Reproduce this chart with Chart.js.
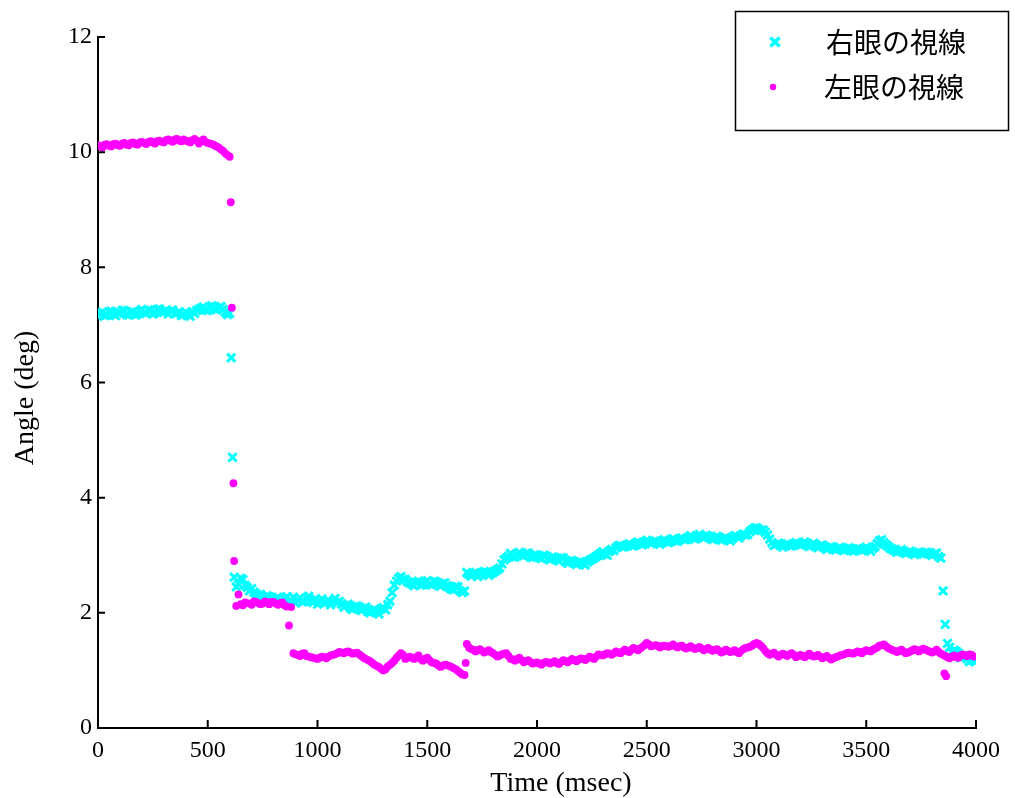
<!DOCTYPE html>
<html>
<head>
<meta charset="utf-8">
<script src="https://cdn.jsdelivr.net/npm/chart.js@4"></script>
<style>
  html, body { margin: 0; padding: 0; background: #ffffff; }
  #wrap { width: 1015px; height: 798px; }
</style>
</head>
<body>
<div id="wrap"><canvas id="gazeChart" width="1015" height="798"></canvas></div>
<script>
// Gaze angle samples. The main arrays hold readings at 0, 20, 40 ... ms,
// the "Odd" arrays the readings taken halfway in between (10, 30, 50 ... ms).
const SAMPLE_MS = 20;

const rightEyeAngle = [
    7.15, 7.22, 7.17, 7.24, 7.16, 7.21, 7.25, 7.17, 7.23, 7.19,
    7.27, 7.2, 7.25, 7.21, 7.28, 7.22, 7.19, 7.26, 7.2, 7.16,
    7.22, 7.15, 7.2, 7.27, 7.31, 7.25, 7.33, 7.26, 7.32, 7.22,
    7.2, 2.62, 2.5, 2.58, 2.44, 2.42, 2.33, 2.32, 2.24, 2.28,
    2.2, 2.27, 2.18, 2.28, 2.21, 2.17, 2.26, 2.2, 2.29, 2.18,
    2.15, 2.24, 2.18, 2.14, 2.25, 2.2, 2.1, 2.15, 2.06, 2.12,
    2.04, 2.1, 2.0, 2.06, 1.98, 2.09, 2.14, 2.35, 2.55, 2.63,
    2.58, 2.52, 2.47, 2.55, 2.49, 2.56, 2.48, 2.54, 2.46, 2.52,
    2.44, 2.4, 2.45, 2.35, 2.7, 2.64, 2.7, 2.66, 2.72, 2.65,
    2.7, 2.75, 2.85, 2.95, 3.03, 2.97, 3.05, 2.99, 3.04, 2.96,
    3.0, 2.94, 2.99, 2.92, 2.96, 2.9, 2.95, 2.86, 2.91, 2.84,
    2.89, 2.83, 2.91, 2.95, 3.0, 3.06, 3.0, 3.1, 3.13, 3.17,
    3.15, 3.2, 3.16, 3.23, 3.18, 3.26, 3.2, 3.25, 3.19, 3.27,
    3.22, 3.29, 3.24, 3.3, 3.27, 3.34, 3.28, 3.36, 3.3, 3.33,
    3.27, 3.33, 3.26, 3.31, 3.25, 3.34, 3.3, 3.37, 3.36, 3.44,
    3.48, 3.43, 3.4, 3.28, 3.17, 3.21, 3.14, 3.2, 3.16, 3.22,
    3.17, 3.23, 3.15, 3.21, 3.13, 3.18, 3.1, 3.15, 3.09, 3.14,
    3.08, 3.13, 3.07, 3.12, 3.08, 3.14, 3.07, 3.15, 3.25, 3.22,
    3.15, 3.1, 3.05, 3.1, 3.03, 3.07, 3.01, 3.06, 3.02, 3.05,
    3.0, 3.04, 2.95, 1.8, 1.4, 1.35, 1.3, 1.25, 1.2, 1.18
];

const rightEyeAngleOdd = [
    7.2, 7.16, 7.23, 7.19, 7.21, 7.25, 7.18, 7.22, 7.17, 7.24,
    7.21, 7.26, 7.19, 7.27, 7.23, 7.25, 7.24, 7.2, 7.23, 7.18,
    7.19, 7.23, 7.25, 7.29, 7.26, 7.32, 7.28, 7.3, 7.27, 7.18,
    null, 2.45, 2.6, 2.48, 2.38, 2.36, 2.3, 2.27, 2.3, 2.23,
    2.25, 2.19, 2.24, 2.2, 2.27, 2.22, 2.19, 2.25, 2.22, 2.24,
    2.2, 2.17, 2.22, 2.2, 2.18, 2.15, 2.13, 2.08, 2.11, 2.07,
    2.08, 2.02, 2.04, 2.03, 2.07, 2.05, 2.2, 2.48, 2.6, 2.58,
    2.54, 2.5, 2.53, 2.48, 2.53, 2.5, 2.55, 2.5, 2.51, 2.47,
    2.41, 2.46, 2.38, 2.38, 2.67, 2.68, 2.63, 2.69, 2.7, 2.68,
    2.73, 2.78, 2.92, 2.98, 2.97, 3.02, 3.0, 3.03, 2.97, 3.01,
    2.96, 3.0, 2.94, 2.97, 2.93, 2.96, 2.89, 2.9, 2.87, 2.88,
    2.86, 2.88, 2.93, 2.98, 3.03, 3.02, 3.07, 3.08, 3.16, 3.14,
    3.18, 3.17, 3.21, 3.2, 3.22, 3.23, 3.24, 3.21, 3.24, 3.23,
    3.26, 3.25, 3.28, 3.27, 3.31, 3.3, 3.33, 3.32, 3.35, 3.3,
    3.3, 3.29, 3.29, 3.28, 3.29, 3.33, 3.34, 3.35, 3.41, 3.47,
    3.45, 3.44, 3.35, 3.22, 3.19, 3.17, 3.18, 3.17, 3.19, 3.2,
    3.2, 3.19, 3.17, 3.18, 3.16, 3.14, 3.13, 3.12, 3.11, 3.1,
    3.11, 3.1, 3.09, 3.11, 3.1, 3.11, 3.12, 3.2, 3.27, 3.18,
    3.12, 3.08, 3.07, 3.06, 3.05, 3.04, 3.04, 3.03, 3.05, 3.03,
    3.02, 2.98, 2.38, 1.47, 1.32, 1.33, 1.22, 1.24, 1.15, 1.17
];

const leftEyeAngle = [
    10.12, 10.08, 10.14, 10.1, 10.15, 10.11, 10.16, 10.12, 10.17, 10.13,
    10.18, 10.14, 10.19, 10.15, 10.2, 10.17, 10.22, 10.18, 10.23, 10.19,
    10.2, 10.17, 10.23, 10.15, 10.22, 10.16, 10.14, 10.1, 10.05, 9.98,
    9.92, 2.9, 2.32, 2.13, 2.17, 2.14, 2.19, 2.15, 2.2, 2.15,
    2.19, 2.14, 2.18, 2.11, 2.1, 1.28, 1.25, 1.3, 1.24, 1.22,
    1.2, 1.24, 1.21, 1.26, 1.28, 1.32, 1.3, 1.33, 1.29, 1.31,
    1.25, 1.2, 1.16, 1.1, 1.06, 1.0, 1.07, 1.13, 1.22, 1.3,
    1.2, 1.24, 1.2, 1.26, 1.17, 1.22, 1.14, 1.12, 1.06, 1.1,
    1.08, 1.04, 0.99, 0.93, 1.46, 1.37, 1.33, 1.37, 1.31, 1.35,
    1.3, 1.24, 1.28, 1.3, 1.2, 1.17, 1.22, 1.14, 1.18, 1.12,
    1.14, 1.1, 1.15, 1.12, 1.16, 1.11, 1.18, 1.14, 1.2, 1.16,
    1.21, 1.18, 1.24, 1.2, 1.28, 1.26, 1.3, 1.27, 1.33, 1.3,
    1.36, 1.32, 1.39, 1.35, 1.41, 1.48, 1.42, 1.44, 1.4, 1.43,
    1.41, 1.45, 1.4, 1.43, 1.38, 1.42, 1.37, 1.41, 1.35, 1.39,
    1.34, 1.37, 1.31, 1.36, 1.32, 1.35, 1.3, 1.37, 1.4, 1.43,
    1.48, 1.43, 1.34, 1.27, 1.31, 1.24, 1.29, 1.25, 1.3, 1.23,
    1.27, 1.23, 1.29, 1.24, 1.27, 1.21, 1.25, 1.19, 1.23, 1.26,
    1.28, 1.31, 1.29, 1.33, 1.3, 1.35, 1.33, 1.38, 1.43, 1.45,
    1.39, 1.35, 1.32, 1.36, 1.3, 1.33, 1.37, 1.33, 1.38, 1.34,
    1.31, 1.36, 1.29, 1.25, 1.21, 1.26, 1.22, 1.28, 1.25, 1.27
];

const leftEyeAngleOdd = [
    10.1, 10.13, 10.11, 10.14, 10.12, 10.15, 10.13, 10.16, 10.14, 10.17,
    10.16, 10.18, 10.17, 10.19, 10.18, 10.21, 10.2, 10.22, 10.2, 10.22,
    10.19, 10.21, 10.2, 10.19, 10.18, 10.15, 10.12, 10.08, 10.02, 9.95,
    7.3, 2.12, 2.15, 2.18, 2.16, 2.2, 2.17, 2.16, 2.18, 2.19,
    2.16, 2.17, 2.13, 1.78, 1.3, 1.27, 1.29, 1.25, 1.23, 1.21,
    1.22, 1.23, 1.24, 1.27, 1.3, 1.31, 1.32, 1.31, 1.3, 1.28,
    1.22, 1.18, 1.13, 1.08, 1.03, 1.02, 1.1, 1.17, 1.26, 1.27,
    1.22, 1.22, 1.23, 1.2, 1.2, 1.18, 1.13, 1.09, 1.08, 1.09,
    1.06, 1.02, 0.96, 0.92, 1.4, 1.36, 1.35, 1.34, 1.33, 1.32,
    1.27, 1.26, 1.29, 1.25, 1.19, 1.2, 1.18, 1.16, 1.15, 1.13,
    1.12, 1.13, 1.14, 1.14, 1.13, 1.15, 1.16, 1.17, 1.18, 1.19,
    1.2, 1.21, 1.22, 1.24, 1.27, 1.28, 1.29, 1.3, 1.31, 1.33,
    1.34, 1.36, 1.37, 1.38, 1.44, 1.45, 1.43, 1.43, 1.42, 1.42,
    1.43, 1.42, 1.42, 1.4, 1.4, 1.39, 1.39, 1.38, 1.37, 1.36,
    1.36, 1.34, 1.33, 1.34, 1.33, 1.32, 1.34, 1.39, 1.41, 1.46,
    1.46, 1.39, 1.3, 1.29, 1.27, 1.27, 1.27, 1.28, 1.27, 1.25,
    1.25, 1.26, 1.26, 1.25, 1.24, 1.23, 1.22, 1.21, 1.24, 1.27,
    1.3, 1.3, 1.31, 1.32, 1.33, 1.34, 1.36, 1.4, 1.44, 1.42,
    1.37, 1.34, 1.34, 1.33, 1.31, 1.35, 1.35, 1.36, 1.36, 1.33,
    1.33, 1.32, 1.27, 1.23, 1.24, 1.23, 1.26, 1.26, 1.28, 1.24
];

// samples caught off the 10 ms grid during the fast jumps (saccades)
const rightJumpTime = [607, 613];
const rightJumpAngle = [6.43, 4.7];
const leftJumpTime = [605, 617, 1675, 3856, 3864];
const leftJumpAngle = [9.13, 4.25, 1.13, 0.95, 0.9];

const xTicks = [0, 500, 1000, 1500, 2000, 2500, 3000, 3500, 4000];
const yTicks = [0, 2, 4, 6, 8, 10, 12];

const seriesNames = ['右眼の視線', '左眼の視線'];
const RIGHT_COLOR = '#00ffff';
const LEFT_COLOR = '#ff00ff';

function toPoints(values, oddValues, extraT, extraV) {
    const pts = values.map((v, i) => ({ x: i * SAMPLE_MS, y: v }));
    oddValues.forEach((v, i) => {
        if (v !== null) pts.push({ x: i * SAMPLE_MS + SAMPLE_MS / 2, y: v });
    });
    extraT.forEach((t, i) => pts.push({ x: t, y: extraV[i] }));
    return pts.sort((a, b) => a.x - b.x);
}

// inward tick marks, axis titles and the boxed legend
const decorations = {
    id: 'decorations',
    afterDraw(chart) {
        const ctx = chart.ctx;
        const xs = chart.scales.x, ys = chart.scales.y;
        const area = chart.chartArea;
        ctx.save();
        ctx.strokeStyle = '#000';
        ctx.lineWidth = 2;
        ctx.beginPath();
        xTicks.forEach(t => {
            const px = xs.getPixelForValue(t);
            ctx.moveTo(px, area.bottom);
            ctx.lineTo(px, area.bottom - 8);
        });
        yTicks.forEach(t => {
            const py = ys.getPixelForValue(t);
            ctx.moveTo(area.left, py);
            ctx.lineTo(area.left + 7, py);
        });
        ctx.stroke();

        // axis titles
        ctx.fillStyle = '#000';
        ctx.font = '28px "Liberation Serif", "Times New Roman", serif';
        ctx.textAlign = 'center';
        ctx.textBaseline = 'middle';
        ctx.fillText('Time (msec)', 561, 784);
        ctx.save();
        ctx.translate(26, 398);
        ctx.rotate(-Math.PI / 2);
        ctx.fillText('Angle (deg)', 0, 0);
        ctx.restore();

        // legend
        ctx.lineWidth = 1.5;
        ctx.strokeRect(735.5, 11.5, 273, 119);
        ctx.strokeStyle = RIGHT_COLOR;
        ctx.fillStyle = RIGHT_COLOR;
        ctx.lineWidth = 3.5;
        Chart.helpers.drawPoint(ctx, { pointStyle: 'crossRot', radius: 6.5, borderWidth: 3.5 }, 775, 42);
        ctx.fillStyle = LEFT_COLOR;
        ctx.strokeStyle = LEFT_COLOR;
        ctx.lineWidth = 0;
        Chart.helpers.drawPoint(ctx, { pointStyle: 'circle', radius: 3.2, borderWidth: 0 }, 773, 87);
        ctx.fillStyle = '#000';
        ctx.font = '28px "Noto Sans CJK JP", sans-serif';
        ctx.textAlign = 'left';
        ctx.fillText(seriesNames[0], 826, 42);
        ctx.fillText(seriesNames[1], 824, 87);
        ctx.restore();
    }
};

const tickFont = { family: '"Liberation Serif", "Times New Roman", serif', size: 24 };

new Chart(document.getElementById('gazeChart').getContext('2d'), {
    type: 'scatter',
    data: {
        datasets: [
            {
                label: seriesNames[0],
                data: toPoints(rightEyeAngle, rightEyeAngleOdd, rightJumpTime, rightJumpAngle),
                borderColor: RIGHT_COLOR,
                backgroundColor: RIGHT_COLOR,
                pointStyle: 'crossRot',
                pointRadius: 5.8,
                pointBorderWidth: 3,
                order: 1
            },
            {
                label: seriesNames[1],
                data: toPoints(leftEyeAngle, leftEyeAngleOdd, leftJumpTime, leftJumpAngle),
                borderColor: LEFT_COLOR,
                backgroundColor: LEFT_COLOR,
                pointStyle: 'circle',
                pointRadius: 3.9,
                pointBorderWidth: 0,
                order: 0
            }
        ]
    },
    options: {
        responsive: false,
        animation: false,
        layout: { padding: { top: 37, right: 39, left: 0, bottom: 0 } },
        scales: {
            x: {
                type: 'linear',
                min: 0,
                max: 4000,
                afterFit: s => { s.height = 70; },
                afterBuildTicks: s => { s.ticks = xTicks.map(v => ({ value: v })); },
                grid: { display: false, drawTicks: false },
                border: { display: true, color: '#000', width: 2 },
                ticks: { color: '#000', font: tickFont, padding: 8, maxRotation: 0, callback: v => String(v) }
            },
            y: {
                min: 0,
                max: 12,
                afterFit: s => { s.width = 98; },
                afterBuildTicks: s => { s.ticks = yTicks.map(v => ({ value: v })); },
                grid: { display: false, drawTicks: false },
                border: { display: true, color: '#000', width: 2 },
                ticks: { color: '#000', font: tickFont, padding: 6, callback: v => String(v) }
            }
        },
        plugins: {
            legend: { display: false },
            tooltip: { enabled: false }
        }
    },
    plugins: [decorations]
});
</script>
</body>
</html>
